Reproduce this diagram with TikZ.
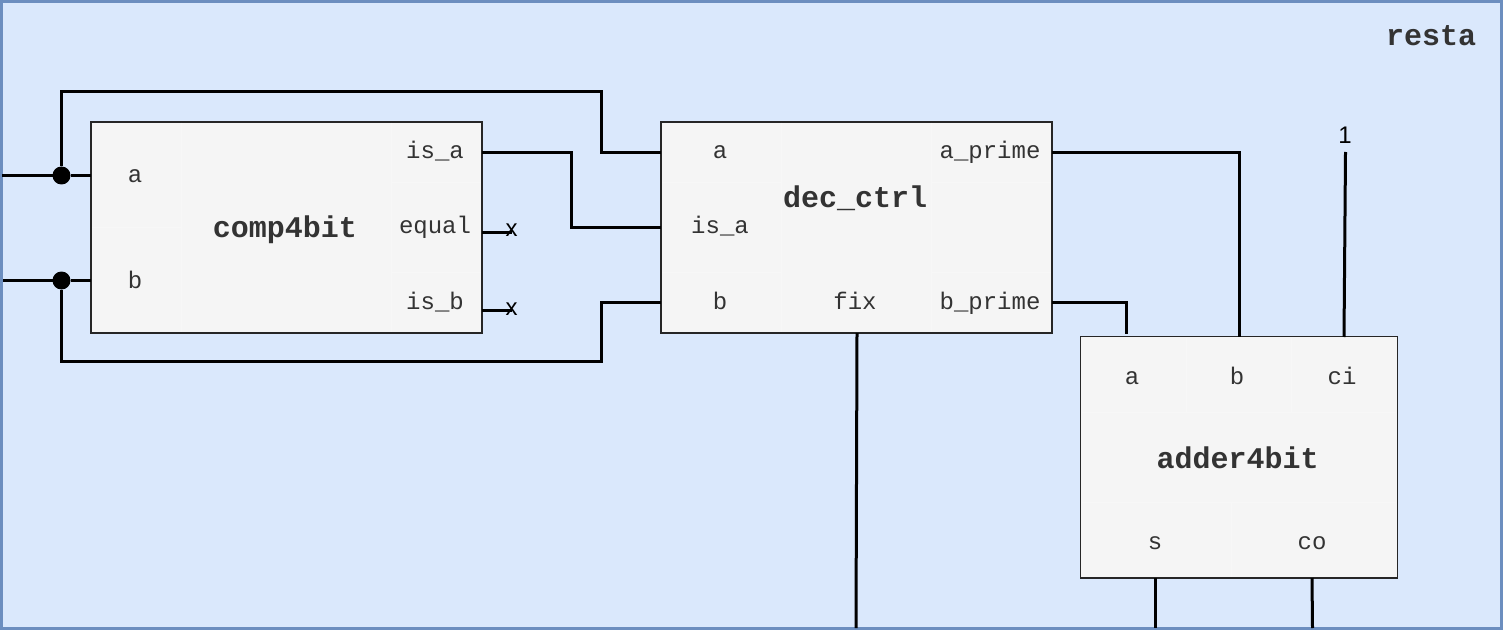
\documentclass[tikz,border=0pt]{standalone}
\usepackage{fontspec}
\setmonofont{Liberation Mono}
\setsansfont{Liberation Sans}
\usetikzlibrary{arrows, fit, positioning}
\definecolor{framefill}{HTML}{DAE8FC}
\definecolor{framedraw}{HTML}{6C8EBF}
\definecolor{boxfill}{HTML}{F5F5F5}
\definecolor{textcol}{HTML}{333333}

\begin{document}
\begin{tikzpicture}[
            x = 1pt, % one unit is one pixel
            y = -1pt, % y runs downwards
            inner sep = 0pt,
            outer sep = 0pt,
        ]
\tikzstyle{framebox}=[
			draw = framedraw,
			fill = framefill,
			line width = 3pt,
			minimum width = 1500pt,
			minimum height = 627pt
			]
\tikzstyle{blockbox}=[
			draw = black!85,
			fill = boxfill,
			line width = 1.25pt
			]
\tikzstyle{cell}=[
			draw = black!3,
			line width = 0.75pt
			]
\tikzstyle{port}=[
			anchor = base,
			text = textcol,
			font = \ttfamily\fontsize{24}{28}\selectfont
			]
\tikzstyle{title}=[
			anchor = base,
			text = textcol,
			font = \ttfamily\bfseries\fontsize{30}{34}\selectfont
			]
\tikzstyle{tag}=[
			anchor = base,
			text = black,
			font = \sffamily\fontsize{24}{28}\selectfont
			]
\tikzstyle{wire}=[
			draw = black,
			line width = 3pt
			]
\tikzstyle{dot}=[
			shape = circle,
			fill = black,
			minimum size = 18pt
			]
\useasboundingbox (0,0) rectangle (1506,636);
\node[framebox](resta) at (751.5,315) {};
\node[title] (resta_title) at (1431,46) {resta};
% blocks
\node[blockbox, minimum width=391pt, minimum height=211pt](comp4bit) at (286.5,227.5) {};
\node[blockbox, minimum width=391pt, minimum height=211pt](dec_ctrl) at (856.5,227.5) {};
\node[blockbox, minimum width=316.5pt, minimum height=241.5pt](adder4bit) at (1239,457.25) {};
% faint cell lines
\draw[cell] (181,123) -- (181,332) (391,123) -- (391,332) (92,227) -- (181,227)
	(391,182.5) -- (481,182.5) (391,272) -- (481,272);
\draw[cell] (781,123) -- (781,332) (931,123) -- (931,332)
	(662,182.5) -- (781,182.5) (662,272) -- (781,272)
	(931,182.5) -- (1051,182.5) (931,272) -- (1051,272);
\draw[cell] (1082,412) -- (1396,412) (1082,502) -- (1396,502) (1186.5,338) -- (1186.5,412)
	(1291.5,338) -- (1291.5,412) (1231.5,502) -- (1231.5,577);
% block texts
\node[title] (comp_title) at (285,238) {comp4bit};
\node[port] (comp_a) at (135,183) {a};
\node[port] (comp_b) at (135,288) {b};
\node[port] (comp_is_a) at (435,159) {is\_a};
\node[port] (comp_equal) at (435,234) {equal};
\node[port] (comp_is_b) at (435,309) {is\_b};
\node[title] (dec_title) at (855,208) {dec\_ctrl};
\node[port] (dec_a) at (720,159) {a};
\node[port] (dec_is_a) at (720,234) {is\_a};
\node[port] (dec_b) at (720,309) {b};
\node[port] (dec_fix) at (855,309) {fix};
\node[port] (dec_a_prime) at (990,159) {a\_prime};
\node[port] (dec_b_prime) at (990,309) {b\_prime};
\node[title] (adder_title) at (1237.5,468) {adder4bit};
\node[port] (adder_a) at (1132,384) {a};
\node[port] (adder_b) at (1237,384) {b};
\node[port] (adder_ci) at (1342,384) {ci};
\node[port] (adder_s) at (1155,549) {s};
\node[port] (adder_co) at (1312,549) {co};
% loose ends
\node[tag] (x_equal) at (511.5,237) {x};
\node[tag] (x_is_b) at (511.5,315) {x};
\node[tag] (one) at (1345,144) {1};
\node[dot] (junc_a) at (61.5,175.5) {};
\node[dot] (junc_b) at (61.5,280.5) {};
\coordinate (in_a) at (2,175.5);
\coordinate (in_b) at (3,280.5);
\coordinate (dec_pin_a) at (dec_ctrl.west |- 0,152.5);
\coordinate (dec_pin_is_a) at (dec_ctrl.west |- 0,227.5);
\coordinate (dec_pin_b) at (dec_ctrl.west |- 0,302.5);
\coordinate (fix_out) at (856,628);
\coordinate (s_out) at (1155,628);
\coordinate (co_out) at (1312.5,628);
% wires
\draw[wire] (in_a) -- (junc_a) -- (junc_a -| comp4bit.west);
\draw[wire] (in_b) -- (junc_b) -- (junc_b -| comp4bit.west);
\draw[wire] (junc_a) -- (61.5,91.5) -- (601.5,91.5) -- (601.5,152.5) -- (dec_pin_a);
\draw[wire] (junc_b) -- (61.5,361) -- (601.5,361) -- (601.5,302.5) -- (dec_pin_b);
\draw[wire] (comp4bit.east |- 0,152.5) -- (571.5,152.5) -- (571.5,227.5) -- (dec_pin_is_a);
\draw[wire] (comp4bit.east |- 0,232.5) -- (x_equal.center |- 0,232.5);
\draw[wire] (comp4bit.east |- 0,310) -- (x_is_b.center |- 0,310);
\draw[wire] (dec_ctrl.east |- 0,152.5) -- (1239,152.5) -- (adder4bit.north);
\draw[wire] (dec_ctrl.east |- 0,302.5) -- (1126,302.5) -- (1126,334);
\draw[wire] (1345.5,152) -- (1344,337);
\draw[wire] (857,333) -- (fix_out);
\draw[wire] (1155,578) -- (s_out);
\draw[wire] (1312,578) -- (co_out);
\end{tikzpicture}
\end{document}
